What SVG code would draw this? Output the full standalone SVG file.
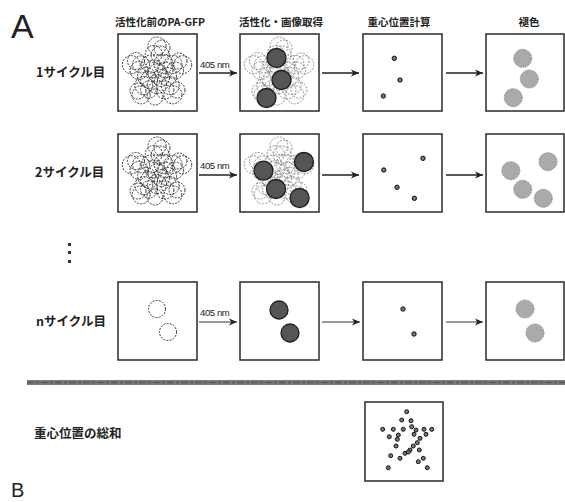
<svg xmlns="http://www.w3.org/2000/svg" xmlns:xlink="http://www.w3.org/1999/xlink" width="565" height="502" viewBox="0 0 565 502">
<style>
.box{fill:#fff;stroke:#2a2a2a;stroke-width:1.5}
.hdr{font-family:"Noto Sans CJK JP","Noto Sans",sans-serif;font-size:10.5px;font-weight:700;fill:#222;text-anchor:middle}
.lbl{font-family:"Noto Sans CJK JP","Noto Sans",sans-serif;font-size:12.5px;font-weight:700;fill:#222}
.nm{font-family:"Liberation Sans",Arial,sans-serif;font-size:9.5px;fill:#222;letter-spacing:-0.4px}
.big{font-family:"Liberation Sans",Arial,sans-serif;font-weight:400;fill:#222}
.dc{fill:none;stroke:#262626;stroke-width:0.9;stroke-dasharray:2 1.2}
.dcl{fill:none;stroke:#777;stroke-width:0.8;stroke-dasharray:2 1.3}
.dark{fill:#555;stroke:#1e1e1e;stroke-width:1.3}
.light{fill:#aaa;stroke:#888;stroke-width:1;stroke-dasharray:1.5 1}
.dot{fill:#777;stroke:#111;stroke-width:1}
.arr{fill:none;stroke:#222;stroke-width:1.5;marker-end:url(#ah)}
.arrt{fill:none;stroke:#333;stroke-width:1;marker-end:url(#ah)}
</style>
<defs>
<marker id="ah" markerUnits="userSpaceOnUse" markerWidth="9" markerHeight="8" refX="8" refY="4" orient="auto">
<path d="M0,0.5 L8,4 L0,7.5 L2.2,4 z" fill="#222"/>
</marker>
<g id="star">
<circle cx="0" cy="-27" r="9"/><circle cx="25.7" cy="-8.3" r="9"/><circle cx="15.9" cy="21.8" r="9"/><circle cx="-15.9" cy="21.8" r="9"/><circle cx="-25.7" cy="-8.3" r="9"/>
<circle cx="6.5" cy="-8.9" r="9.5"/><circle cx="10.5" cy="3.4" r="9"/><circle cx="0" cy="11" r="9.5"/><circle cx="-10.5" cy="3.4" r="9"/><circle cx="-6.5" cy="-8.9" r="9"/>
<circle cx="3.2" cy="-18" r="9"/><circle cx="-3.2" cy="-19" r="8.5"/><circle cx="16" cy="-8.6" r="9"/><circle cx="18" cy="-2.5" r="8.5"/><circle cx="13.2" cy="12.6" r="9"/><circle cx="7.9" cy="17" r="9"/><circle cx="-7.9" cy="16.4" r="8.5"/><circle cx="-13.2" cy="12.6" r="9"/><circle cx="-18" cy="-2.5" r="9"/><circle cx="-16" cy="-8.6" r="8.5"/>
<circle cx="0" cy="0" r="9"/><circle cx="4" cy="5" r="8.5"/><circle cx="-3" cy="-4" r="9"/><circle cx="22" cy="-12" r="8"/><circle cx="-21" cy="-12" r="8.5"/><circle cx="-2" cy="24" r="8"/>
<circle cx="8" cy="-3" r="8"/><circle cx="-8" cy="7" r="8.5"/><circle cx="5" cy="-25" r="8"/><circle cx="20" cy="17" r="8"/><circle cx="-19" cy="18" r="8"/>
</g>
</defs>

<text class="big" x="11" y="38" font-size="34">A</text>
<text class="big" x="11" y="497" font-size="20">B</text>

<g id="headers">
<text class="hdr" x="160" y="26">活性化前のPA-GFP</text>
<text class="hdr" x="281" y="26">活性化・画像取得</text>
<text class="hdr" x="399" y="26">重心位置計算</text>
<text class="hdr" x="529" y="26">褪色</text>
</g>

<g id="row-labels">
<text class="lbl" x="36" y="77">1サイクル目</text>
<text class="lbl" x="35" y="177">2サイクル目</text>
<text class="lbl" x="36" y="326">nサイクル目</text>
<g id="ellipsis" fill="#333"><rect x="68" y="243" width="3" height="3"/><rect x="68" y="251" width="3" height="3"/><rect x="68" y="260" width="3" height="3"/></g>
<text class="lbl" x="34" y="438">重心位置の総和</text>
</g>

<!-- Row 1 -->
<g id="r1c1"><rect class="box" x="118" y="34" width="79" height="77"/><use href="#star" class="dc" transform="translate(157,73)"/></g>
<g id="r1c2"><rect class="box" x="240" y="34" width="79" height="77"/><use href="#star" class="dcl" transform="translate(279,73)"/>
<circle class="dark" cx="276.5" cy="58" r="9.5"/><circle class="dark" cx="281.5" cy="80" r="9.5"/><circle class="dark" cx="266.5" cy="98" r="9.5"/></g>
<g id="r1c3"><rect class="box" x="363" y="34" width="79" height="77"/>
<circle class="dot" cx="394.3" cy="58.3" r="2.2"/><circle class="dot" cx="400" cy="80" r="2.2"/><circle class="dot" cx="383.3" cy="96" r="2.2"/></g>
<g id="r1c4"><rect class="box" x="486" y="34" width="78" height="77"/>
<circle class="light" cx="522.7" cy="58.3" r="9"/><circle class="light" cx="529.3" cy="79" r="9"/><circle class="light" cx="513.3" cy="97.7" r="9"/></g>

<!-- Row 2 -->
<g id="r2c1"><rect class="box" x="118" y="134" width="79" height="78"/><use href="#star" class="dc" transform="translate(157,173)"/></g>
<g id="r2c2"><rect class="box" x="240" y="134" width="79" height="78"/><use href="#star" class="dcl" transform="translate(279,173)"/>
<circle class="dark" cx="263.5" cy="170.7" r="9.5"/><circle class="dark" cx="304" cy="162" r="9.5"/><circle class="dark" cx="276" cy="189" r="9.5"/><circle class="dark" cx="299.6" cy="198" r="9.5"/></g>
<g id="r2c3"><rect class="box" x="363" y="134" width="79" height="78"/>
<circle class="dot" cx="383.8" cy="170" r="2.2"/><circle class="dot" cx="423" cy="158.3" r="2.2"/><circle class="dot" cx="397" cy="187.3" r="2.2"/><circle class="dot" cx="414.4" cy="198.3" r="2.2"/></g>
<g id="r2c4"><rect class="box" x="486" y="134" width="78" height="78"/>
<circle class="light" cx="510.8" cy="170.7" r="9"/><circle class="light" cx="548" cy="161.7" r="9"/><circle class="light" cx="522.7" cy="189.3" r="9"/><circle class="light" cx="543.3" cy="198.3" r="9"/></g>

<!-- Row 3 -->
<g id="r3c1"><rect class="box" x="118" y="282" width="79" height="78"/>
<circle class="dc" cx="157" cy="309" r="8.5"/><circle class="dc" cx="168" cy="332" r="8.5"/></g>
<g id="r3c2"><rect class="box" x="240" y="282" width="79" height="78"/>
<circle class="dark" cx="279" cy="310" r="9"/><circle class="dark" cx="290" cy="333" r="9"/></g>
<g id="r3c3"><rect class="box" x="363" y="282" width="79" height="78"/>
<circle class="dot" cx="403" cy="309" r="2.2"/><circle class="dot" cx="414" cy="334" r="2.2"/></g>
<g id="r3c4"><rect class="box" x="486" y="282" width="78" height="78"/>
<circle class="light" cx="525" cy="309" r="9"/><circle class="light" cx="535" cy="333" r="9"/></g>

<!-- separator -->
<g id="separator"><rect x="27" y="380" width="538" height="5" fill="#7a7a7a"/><line x1="27" y1="382.5" x2="565" y2="382.5" stroke="#555" stroke-width="1.5" stroke-dasharray="7 2 3 2"/></g>

<!-- Summary -->
<g id="summary"><rect class="box" x="365" y="402" width="78" height="79"/>
<g class="dot">
<circle cx="406.7" cy="411.7" r="2"/><circle cx="401.7" cy="420" r="2"/><circle cx="411" cy="420.7" r="2"/><circle cx="382.7" cy="429.3" r="2"/><circle cx="393.3" cy="429.3" r="2"/><circle cx="403.3" cy="429.3" r="2"/><circle cx="411.7" cy="426.7" r="2"/><circle cx="416" cy="430" r="2"/><circle cx="424" cy="429.3" r="2"/><circle cx="431.7" cy="429.3" r="2"/>
<circle cx="389.3" cy="436.7" r="2"/><circle cx="398.3" cy="435" r="2"/><circle cx="414" cy="434.3" r="2"/><circle cx="426" cy="434.3" r="2"/><circle cx="420" cy="438.3" r="2"/><circle cx="397.3" cy="439.3" r="2"/><circle cx="417.3" cy="442.7" r="2"/><circle cx="396" cy="446" r="2"/><circle cx="413.3" cy="446" r="2"/><circle cx="410" cy="450" r="2"/>
<circle cx="419.3" cy="450" r="2"/><circle cx="390.7" cy="455.7" r="2"/><circle cx="405" cy="453.3" r="2"/><circle cx="400" cy="458.3" r="2"/><circle cx="408.3" cy="452" r="2"/><circle cx="423.3" cy="458.3" r="2"/><circle cx="418.3" cy="461.7" r="2"/><circle cx="388.3" cy="467.7" r="2"/><circle cx="427.3" cy="467.7" r="2"/>
</g></g>

<g id="connectors">
<text class="nm" x="200" y="68">405 nm</text>
<path class="arr" d="M199,73 H237"/>
<path class="arr" d="M322,73 H359"/>
<path class="arr" d="M446,73 H483"/>
<text class="nm" x="200" y="169">405 nm</text>
<path class="arr" d="M199,175 H237"/>
<path class="arr" d="M322,175 H359"/>
<path class="arr" d="M446,175 H483"/>
<text class="nm" x="200" y="316">405 nm</text>
<path class="arrt" d="M199,322 H237"/>
<path class="arrt" d="M322,322 H360"/>
<path class="arrt" d="M446,322 H483"/>
</g>
</svg>
